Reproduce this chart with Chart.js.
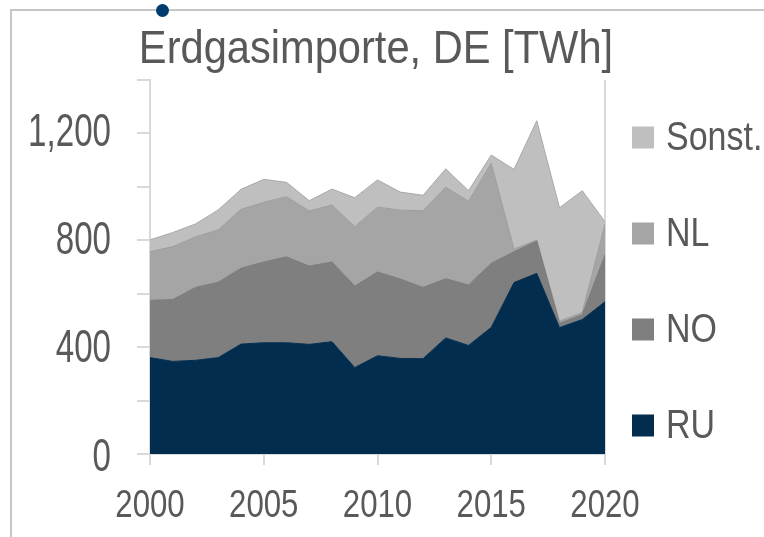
<!DOCTYPE html>
<html>
<head>
<meta charset="utf-8">
<script src="https://cdn.jsdelivr.net/npm/chart.js@4/dist/chart.umd.min.js"></script>
<style>
  body { margin: 0; background: #fff; }
  #wrap { position: relative; width: 764px; height: 537px; }
  #frame { position: absolute; left: 10px; top: 9px; right: 0; bottom: 0; border-top: 2px solid #c6c6c6; border-left: 2px solid #c6c6c6; }
  #dot { position: absolute; left: 156px; top: 4px; width: 13px; height: 13px; border-radius: 50%; background: #003b6f; }
</style>
</head>
<body>
<div id="wrap">
  <div id="frame"></div>
  <canvas id="myChart"></canvas>
  <div id="dot"></div>
</div>
<script>
const years = [2000, 2001, 2002, 2003, 2004, 2005, 2006, 2007, 2008, 2009, 2010,
               2011, 2012, 2013, 2014, 2015, 2016, 2017, 2018, 2019, 2020];
const ru     = [357, 343, 347, 357, 407, 412, 412, 406, 416, 320, 364, 354, 353, 430, 402, 469, 635, 669, 468, 498, 564];
const no     = [212, 229, 270, 279, 281, 299, 318, 290, 295, 302, 310, 294, 264, 219, 224, 237, 114, 120, 16, 18, 173];
const nl     = [180, 196, 187, 194, 218, 221, 223, 204, 211, 220, 240, 255, 284, 339, 310, 371, 10, 3, 8, 8, 115];
const sonst  = [44, 52, 48, 74, 74, 85, 53, 38, 59, 107, 101, 67, 57, 68, 39, 30, 295, 442, 420, 451, 8];
const yLabels = [0, 400, 800, 1200];
const xLabels = [2000, 2005, 2010, 2015, 2020];
const title = 'Erdgasimporte, DE [TWh]';

// no narrow face installed, so text is squeezed horizontally
const font = "'Liberation Sans', Arial, sans-serif";
const textColor = '#595959';
const gridColor = '#d9d9d9';

function pts(arr) {
  return arr.map((v, i) => ({ x: years[i], y: v }));
}

function narrowText(ctx, text, x, y, size, sx, align) {
  ctx.save();
  ctx.font = size + 'px ' + font;
  ctx.fillStyle = textColor;
  ctx.textAlign = align;
  ctx.textBaseline = 'alphabetic';
  ctx.translate(x, y);
  ctx.scale(sx, 1);
  ctx.fillText(text, 0, 0);
  ctx.restore();
}

// title, tick labels and legend in a condensed look
const textLayer = {
  id: 'textLayer',
  afterDraw(chart) {
    const ctx = chart.ctx;
    const xs = chart.scales.x, ys = chart.scales.y;

    narrowText(ctx, title, 376, 63, 46, 0.905, 'center');

    yLabels.forEach(v => {
      narrowText(ctx, v.toLocaleString('en-US'), 111, ys.getPixelForValue(v) + 16.5, 46, 0.72, 'right');
    });
    xLabels.forEach(v => {
      narrowText(ctx, String(v), xs.getPixelForValue(v), 517, 39, 0.8, 'center');
    });

    const items = chart.data.datasets.slice().reverse();
    items.forEach((ds, i) => {
      const cy = 137.5 + i * 96;
      ctx.fillStyle = ds.backgroundColor;
      ctx.fillRect(632, cy - 11, 22, 22);
      narrowText(ctx, ds.label, 666, cy + 12, 40, 0.85, 'left');
    });
  }
};

new Chart(document.getElementById('myChart'), {
  type: 'line',
  data: {
    datasets: [
      { label: 'RU', data: pts(ru), backgroundColor: '#032d4e', borderColor: '#032d4e', fill: 'origin' },
      { label: 'NO', data: pts(no), backgroundColor: '#7f7f7f', borderColor: '#7a7a7a', fill: '-1' },
      { label: 'NL', data: pts(nl), backgroundColor: '#a5a5a5', borderColor: '#9c9c9c', fill: '-1' },
      { label: 'Sonst.', data: pts(sonst), backgroundColor: '#bfbfbf', borderColor: '#a8a8a8', fill: '-1' }
    ]
  },
  options: {
    responsive: true,
    maintainAspectRatio: false,
    animation: false,
    elements: { point: { radius: 0 }, line: { borderWidth: 1, tension: 0 } },
    layout: { padding: { left: 0, right: 159, top: 80, bottom: 0 } },
    plugins: {
      legend: { display: false },
      tooltip: { enabled: false },
      title: { display: false }
    },
    scales: {
      x: {
        type: 'linear',
        min: 2000,
        max: 2020,
        border: { color: gridColor, width: 2 },
        grid: {
          color: c => (c.tick && c.tick.value === 2020 ? gridColor : 'transparent'),
          tickColor: gridColor,
          tickLength: 11,
          lineWidth: 2
        },
        ticks: { stepSize: 5, display: false, autoSkip: false },
        afterFit: s => { s.height = 83; }
      },
      y: {
        stacked: true,
        min: 0,
        max: 1385,
        border: { color: gridColor, width: 2 },
        grid: {
          color: c => (c.tick && c.tick.value % 400 === 0 ? gridColor : 'transparent'),
          tickColor: gridColor,
          tickLength: 13,
          lineWidth: 2
        },
        ticks: { stepSize: 200, includeBounds: false, display: false, autoSkip: false },
        afterFit: s => { s.width = 150; }
      }
    }
  },
  plugins: [textLayer]
});
</script>
</body>
</html>
